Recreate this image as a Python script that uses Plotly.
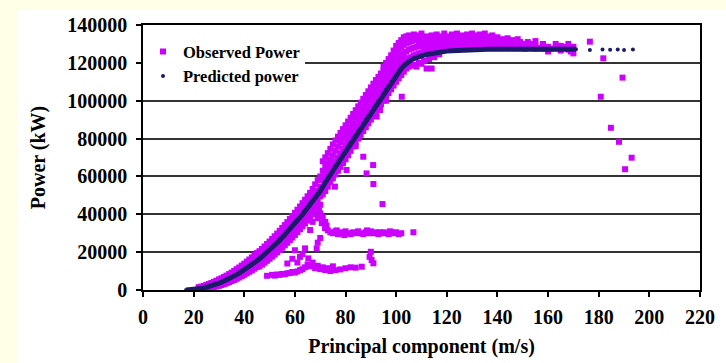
import plotly.graph_objects as go

# ---------------- data ----------------
# Observed power, main band around the power curve: one x per column, up to five readings each
band_x = [22, 23, 24, 25, 26, 27, 28, 29, 30, 31, 32, 33, 34, 35, 36, 37, 38, 39, 40, 41,
          42, 43, 44, 45, 46, 47, 48, 49, 50, 51, 52, 53, 54, 55, 56, 57, 58, 59, 60, 61,
          62, 63, 64, 65, 66, 67, 68, 69, 70, 71, 72, 73, 74, 75, 76, 77, 78, 79, 80, 81,
          82, 83, 84, 85, 86, 87, 88, 89, 90, 91, 92, 93, 94, 95, 96, 97, 98, 99, 100, 101,
          102, 103, 104, 105, 106, 107, 108, 109, 110, 111, 112, 113, 114, 115, 116, 117, 118, 119, 120]
band_lo = [100, 200, 350, 600, 800, 1100, 1400, 1800, 2200, 2600, 3100, 3600, 4100, 4700, 5300, 5900, 6600, 7300, 8000, 8800,
           9600, 10400, 11300, 12200, 12400, 13400, 14400, 15450, 16500, 17600, 18700, 19900, 21100, 22350, 23600, 24950, 26300, 27700, 29100, 30600,
           32100, 33600, 35100, 36700, 38300, 39950, 41600, 43300, 45000, 50450, 52300, 54600, 57000, 59000, 61000, 63000, 65000, 67000, 69000, 71200,
           73500, 75800, 78000, 80000, 82000, 84000, 86000, 88000, 90000, 92000, 94000, 96000, 98000, 100000, 102000, 104000, 106000, 108000, 110000, 111800,
           113500, 115300, 117000, 118000, 118500, 119000, 118000, 120000, 119500, 121000, 117000, 122000, 117000, 123000, None, 124500, None, None, None]
band_a = [700, 900, 1200, 1500, 1900, 2300, 2700, 3200, 3700, 4200, 4800, 5400, 6100, 6800, 7500, 8300, 9100, 9900, 10800, 11700,
          12600, 13600, 14600, 15600, 14900, 16000, 17000, 18150, 19300, 20500, 21700, 23000, 24300, 25600, 27000, 28400, 29800, 31300, 32800, 34300,
          35900, 37500, 39100, 40800, 42400, 44100, 45900, 47700, 49500, 58000, 60000, 62000, 64000, 66000, 68000, 70100, 72300, 74600, 76900, 79000,
          81000, 83000, 85000, 87000, 89000, 91000, 93000, 95000, 97000, 99000, 101000, 103000, 105000, 107000, 109000, 110900, 112600, 114400, 116100, 118000,
          119800, 121000, 122000, 122500, 123000, 124000, 124500, 125000, 125500, 126500, 127000, 127500, 127500, 128000, 128000, 128000, 128500, 128000, 128500]
band_b = [1500, 1800, 2200, 2700, 3200, 3700, 4300, 4900, 5600, 6200, 6900, 7600, 8400, 9200, 10100, 11000, 11900, 12900, 13900, 15000,
          16100, 17200, 18300, 19500, 17600, 18700, 19900, 21100, 22350, 23600, 24950, 26300, 27700, 29100, 30600, 32100, 33600, 35100, 36700, 38300,
          39950, 41600, 43300, 45000, 46800, 48600, 50450, 52300, 54600, 63000, 65000, 67000, 69000, 71200, 73500, 75800, 78000, 80000, 82000, 84000,
          86000, 88000, 90000, 92000, 94000, 96000, 98000, 100000, 102000, 104000, 106000, 108000, 110000, 111800, 113500, 115300, 117000, 118500, 119800, 121500,
          123500, 125000, 126000, 127000, 127500, 128000, 128500, 129000, 129000, 129500, 130000, 130500, 131000, 130000, 131500, 130500, 131000, 130500, 131500]
band_c = [None, None, None, None, None, None, None, None, None, None, None, None, None, None, None, None, None, None, None, None,
          None, None, None, None, 20500, 21700, 23000, 24300, 25600, 27000, 28400, 29800, 31300, 32800, 34300, 35900, 37500, 39100, 40800, 42400,
          44100, 45900, 47700, 49500, 51300, 53400, 55800, 58000, 60000, 68000, 70100, 72300, 74600, 76900, 79000, 81000, 83000, 85000, 87000, 89000,
          91000, 93000, 95000, 97000, 99000, 101000, 103000, 105000, 107000, 109000, 110900, 112600, 114400, 116100, 117700, 119100, 120300, 122000, 124000, 126000,
          128000, 129500, 130500, 131000, 131500, 132000, 132000, 132500, 132000, 133000, 134000, 133000, 134500, 133500, 135000, 133000, 134000, 135500, 133500]
band_d = [None, None, None, None, None, None, None, None, None, None, None, None, None, None, None, None, None, None, None, None,
          None, None, None, None, None, None, None, None, None, None, None, None, None, None, None, None, None, None, None, None,
          None, None, None, None, None, None, None, None, None, None, None, None, None, None, None, None, None, None, None, None,
          None, None, None, None, None, None, None, None, None, None, None, None, None, 118000, 120000, 122000, 124000, 126500, 129000, 130500,
          132000, 133500, 134000, 134500, 133500, 135000, 134000, 134500, 135500, None, None, None, None, None, None, None, None, None, None]

# Observed power on the rated plateau
plat_x = [121, 122, 123, 124, 125, 126, 127, 128, 129, 130, 131, 132, 133, 134, 135, 136, 137, 138, 139, 140,
          141, 142, 143, 144, 145, 146, 147, 148, 149, 150, 151, 152, 153, 155, 156, 158, 160, 161, 163, 165,
          166, 168, 169, 170]
plat_a = [128000, 129000, 128000, 128500, 129000, 128000, 128500, 129000, 128000, 128500, 129000, 128000, 128500, 129000, 128000, 128500, 129000, 128000, 128500, 128000,
          129000, 128000, 128500, 128000, 128500, 128000, 128500, 128000, 128500, 128000, 127500, 128500, 128000, 127500, 128000, 127500, 128500, 127500, 128000, 126500,
          128500, 127000, 126000, 128500]
plat_b = [131000, 132500, 130500, 131500, 132000, 131000, 131500, 132500, 130500, 131500, 132000, 131000, 132000, 131500, 131000, 132000, 131000, 130500, 131500, 130000,
          131000, 130500, 131500, 130000, 130500, 131000, 130000, 129500, 131000, 130000, 129500, 131000, 130000, 129000, None, 130000, 126000, None, 130000, 129000,
          None, 130000, None, 125000]
plat_c = [134000, 135000, 133500, 135500, 134000, 134500, 133000, 135000, 134000, 135500, 134500, 133500, 135000, 134000, 135500, 134000, 133000, 134500, 133000, 133500,
          None, 132500, None, 133000, None, 132000, None, 132500, None, None, None, None, None, 131500, None, None, None, None, None, None,
          None, None, None, None]

# Observed power: scattered readings away from the curve
out_x = [176.5, 181.8, 189.4, 180.8, 184.8, 188.0, 193.0, 190.4,
         87.0, 90.9, 80.4, 88.3, 102.2, 92.3, 93.6, 91.0, 94.6, 75.8, 96.0, 84.0,
         74, 75, 76, 77, 78, 79, 80, 81, 82, 83, 84, 85, 86, 87, 88, 89, 90, 91, 92, 93,
         94, 95, 96, 97, 98, 99, 100, 101, 102, 106.8, 76.5, 79.5, 88.5, 93.5, 97.5,
         67.3, 69.0, 70.6, 71.9, 70.0, 68.6, 65.3, 66.0, 70.0, 72.0, 73.0, 68.0, 69.5, 71.0, 72.5, 67.0, 69.0,
         49, 51, 52, 53, 54, 55, 56, 57, 58, 59, 60, 61, 62, 63, 64, 65, 66, 67, 68, 69,
         70, 71, 72, 73, 74, 75, 76, 78, 80, 82, 84, 86.4, 90.0, 90.3, 91.0, 89.5,
         57, 59, 61, 62, 64, 63, 60]
out_y = [131200, 122400, 112200, 102100, 85700, 78300, 69900, 63800,
         70400, 66000, 63400, 61600, 102100, 91600, 95100, 56000, 45400, 54600, 100000, 76000,
         30500, 30000, 31000, 29500, 30500, 30000, 31000, 30000, 29500, 30500, 30000, 31000, 30000, 29500, 30500, 30000, 31000, 30000, 30500, 29500,
         30000, 30500, 30000, 29500, 30500, 30000, 30500, 29500, 30000, 30500, 31500, 29000, 31500, 30500, 31000,
         40500, 38000, 35300, 32700, 27500, 22000, 16700, 31700, 40500, 36000, 31500, 43000, 42000, 38500, 34000, 36000, 25000,
         7500, 8000, 7600, 8200, 8000, 8500, 8300, 8800, 9000, 9500, 9200, 9800, 10500, 11000, 12000, 13500, 12500, 14500, 11500, 12800,
         11000, 12000, 10500, 11500, 10000, 12500, 10500, 10900, 11500, 12000, 11800, 12300, 20200, 15800, 14100, 17500,
         14000, 16500, 14500, 17500, 22000, 19000, 21000]

# Predicted power curve
pred_x = [17, 18, 19, 20, 21, 22, 23, 24, 25, 26, 27, 28, 29, 30, 31, 32, 33, 34, 35, 36,
          37, 38, 39, 40, 41, 42, 43, 44, 45, 46, 47, 48, 49, 50, 51, 52, 53, 54, 55, 56,
          57, 58, 59, 60, 61, 62, 63, 64, 65, 66, 67, 68, 69, 70, 71, 72, 73, 74, 75, 76,
          77, 78, 79, 80, 81, 82, 83, 84, 85, 86, 87, 88, 89, 90, 91, 92, 93, 94, 95, 96,
          97, 98, 99, 100, 101, 102, 103, 104, 105, 106, 107, 108, 109, 110, 111, 112, 113, 114, 115, 116,
          117, 118, 119, 120, 122, 124, 126, 128, 130, 132, 134, 136, 138, 140, 142, 144, 146, 148, 150, 152,
          154, 156, 158, 160, 162, 164, 166, 168, 170, 171,
          176.5, 181.5, 184.5, 187.5, 190.0, 193.5]
pred_y = [0, 50, 120, 220, 390, 580, 820, 1090, 1410, 1770, 2170, 2600, 3080, 3580, 4130, 4700, 5320, 5960, 6650, 7370,
          8120, 8910, 9740, 10600, 11480, 12400, 13400, 14400, 15450, 16500, 17600, 18700, 19900, 21100, 22350, 23600, 24950, 26300, 27700, 29100,
          30600, 32100, 33600, 35100, 36700, 38300, 39950, 41600, 43300, 45000, 46800, 48600, 50450, 52300, 54600, 57000, 59000, 61000, 63000, 65000,
          67000, 69000, 71200, 73500, 75800, 78000, 80000, 82000, 84000, 86000, 88000, 90000, 92000, 94000, 96000, 98000, 100000, 102000, 104000, 106000,
          108000, 110000, 111800, 113500, 115300, 117000, 118500, 119800, 120800, 121600, 122200, 122800, 123300, 123700, 124100, 124400, 124700, 125000, 125300, 125500,
          125700, 125900, 126100, 126200, 126400, 126600, 126750, 126900, 127000, 127100, 127150, 127200, 127200, 127200, 127200, 127200, 127200, 127200, 127200, 127200,
          127200, 127200, 127200, 127200, 127200, 127200, 127200, 127200, 127200, 127200,
          126800, 127000, 126900, 127000, 126800, 127000]
pred_line_end = 171   # the dense part of the predicted curve ends here

x_ticks = [0, 20, 40, 60, 80, 100, 120, 140, 160, 180, 200, 220]
y_ticks = [0, 20000, 40000, 60000, 80000, 100000, 120000, 140000]

# ---------------- figure ----------------
MAG = "#CC00FF"
NAVY = "#1c1a6a"
SERIF = "Liberation Serif"

obs_x = band_x * 5 + plat_x * 3 + out_x
obs_y = band_lo + band_a + band_b + band_c + band_d + plat_a + plat_b + plat_c + out_y

fig = go.Figure()
fig.add_trace(go.Scatter(
    x=obs_x, y=obs_y, mode="markers", name="Observed Power",
    marker=dict(symbol="square", size=6, color=MAG, line=dict(width=0)),
))
line_x = [v for v in pred_x if v <= pred_line_end]
line_y = pred_y[:len(line_x)]
fig.add_trace(go.Scatter(
    x=line_x, y=line_y, mode="lines", showlegend=False, hoverinfo="skip",
    line=dict(color=NAVY, width=5),
))
fig.add_trace(go.Scatter(
    x=pred_x, y=pred_y, mode="markers", name="Predicted power",
    marker=dict(symbol="circle", size=4, color=NAVY, line=dict(width=0)),
))

W, H = 726, 363
L, R, T, B = 143, 26, 25, 73
pw, ph = W - L - R, H - T - B
fig.add_shape(type="rect", xref="paper", yref="paper", layer="below",
              x0=(18 - L) / pw, x1=(W - L) / pw + 0.01,
              y0=-(H - T - ph) / ph - 0.01, y1=(ph + T - 10) / ph,
              fillcolor="white", line=dict(width=0))

fig.update_layout(
    width=W, height=H,
    margin=dict(l=L, r=R, t=T, b=B, autoexpand=False),
    paper_bgcolor="#FFFFE8",
    plot_bgcolor="white",
    font=dict(family=SERIF, color="black"),
    showlegend=True,
    legend=dict(x=0.0, y=0.965, xanchor="left", yanchor="top",
                bgcolor="white", borderwidth=0,
                font=dict(family=SERIF, size=16.5, color="black", weight="bold"),
                tracegroupgap=0, itemwidth=30),
)
fig.update_xaxes(
    range=[0, 220], tickvals=x_ticks, showgrid=False, zeroline=False,
    automargin=False,
    showline=True, mirror=True, linecolor="black", linewidth=1.5,
    ticks="outside", ticklen=5, tickcolor="black", tickwidth=1.5,
    ticklabelstandoff=3,
    tickfont=dict(family=SERIF, size=20, weight="bold"),
    title=dict(text="Principal component (m/s)", standoff=12,
               font=dict(family=SERIF, size=20, weight="bold")),
)
fig.update_yaxes(
    range=[0, 140000], tickvals=y_ticks, tickformat="d",
    automargin=False,
    showgrid=True, gridcolor="#333333", gridwidth=1.5, zeroline=False,
    showline=True, mirror=True, linecolor="black", linewidth=1.5,
    ticks="outside", ticklen=5, tickcolor="black", tickwidth=1.5,
    ticklabelstandoff=5,
    tickfont=dict(family=SERIF, size=20, weight="bold"),
    title=dict(text="Power (kW)", standoff=16,
               font=dict(family=SERIF, size=20, weight="bold")),
)

fig.write_html("out.html")
